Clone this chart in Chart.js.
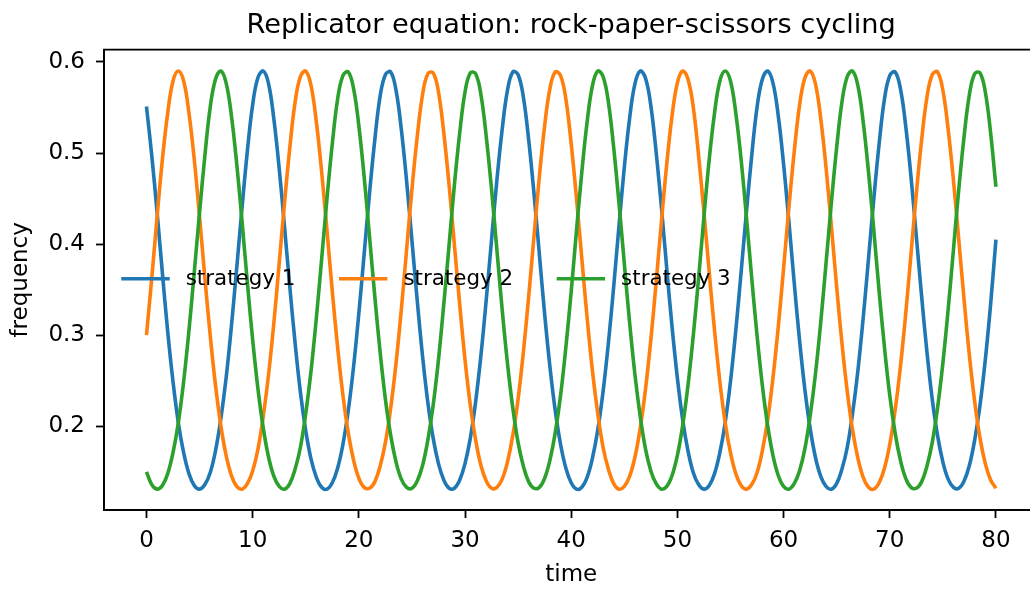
<!DOCTYPE html>
<html>
<head>
<meta charset="utf-8">
<script src="https://cdn.jsdelivr.net/npm/chart.js@4.4.1/dist/chart.umd.min.js"></script>
<style>
  html, body { margin: 0; padding: 0; background: #fff; overflow: hidden; }
  #wrap { width: 1045px; height: 590px; }
</style>
</head>
<body>
<div id="wrap"><canvas id="c" width="1045" height="590"></canvas></div>
<script>
const chartTitle = 'Replicator equation: rock-paper-scissors cycling';
const xTitle = 'time';
const yTitle = 'frequency';
const seriesNames = ['strategy 1', 'strategy 2', 'strategy 3'];
const xTicks = [0, 10, 20, 30, 40, 50, 60, 70, 80];
const yTicks = [0.2, 0.3, 0.4, 0.5, 0.6];

const times = [
  0,0.5,1,1.5,2,2.5,3,3.5,4,4.5,5,5.5,6,6.5,7,7.5,8,8.5,9,9.5,
  10,10.5,11,11.5,12,12.5,13,13.5,14,14.5,15,15.5,16,16.5,17,17.5,18,18.5,19,19.5,
  20,20.5,21,21.5,22,22.5,23,23.5,24,24.5,25,25.5,26,26.5,27,27.5,28,28.5,29,29.5,
  30,30.5,31,31.5,32,32.5,33,33.5,34,34.5,35,35.5,36,36.5,37,37.5,38,38.5,39,39.5,
  40,40.5,41,41.5,42,42.5,43,43.5,44,44.5,45,45.5,46,46.5,47,47.5,48,48.5,49,49.5,
  50,50.5,51,51.5,52,52.5,53,53.5,54,54.5,55,55.5,56,56.5,57,57.5,58,58.5,59,59.5,
  60,60.5,61,61.5,62,62.5,63,63.5,64,64.5,65,65.5,66,66.5,67,67.5,68,68.5,69,69.5,
  70,70.5,71,71.5,72,72.5,73,73.5,74,74.5,75,75.5,76,76.5,77,77.5,78,78.5,79,79.5,
  80
];

const strategy1 = [
  0.551,0.497,0.435,0.368,0.304,0.249,0.204,0.171,0.148,0.135,0.131,0.136,0.149,0.173,0.208,0.253,0.310,0.374,0.440,0.502,0.553,0.583,
  0.590,0.576,0.537,0.483,0.419,0.353,0.291,0.237,0.195,0.164,0.144,0.133,0.131,0.138,0.154,0.180,0.217,0.265,0.324,0.389,0.455,0.514,0.562,0.586,
  0.589,0.569,0.526,0.469,0.404,0.338,0.277,0.226,0.187,0.159,0.141,0.132,0.132,0.141,0.159,0.187,0.227,0.278,0.339,0.405,0.470,0.526,0.569,0.589,
  0.586,0.561,0.514,0.455,0.389,0.323,0.265,0.217,0.180,0.154,0.138,0.131,0.133,0.144,0.165,0.196,0.238,0.291,0.353,0.420,0.484,0.538,0.576,0.590,
  0.582,0.552,0.501,0.440,0.373,0.309,0.253,0.207,0.173,0.149,0.136,0.131,0.135,0.148,0.171,0.204,0.249,0.305,0.369,0.435,0.497,0.550,0.581,
  0.590,0.577,0.541,0.488,0.425,0.358,0.295,0.241,0.198,0.166,0.145,0.134,0.131,0.137,0.153,0.177,0.214,0.261,0.319,0.384,0.450,0.510,0.559,0.585,
  0.589,0.571,0.530,0.474,0.409,0.343,0.282,0.230,0.190,0.161,0.142,0.133,0.132,0.140,0.157,0.185,0.223,0.273,0.334,0.405
];

const strategy2 = [
  0.300,0.363,0.430,0.493,0.544,0.579,
  0.590,0.579,0.544,0.493,0.430,0.363,0.300,0.245,0.201,0.168,0.146,0.134,0.131,0.137,0.151,0.175,0.211,0.257,0.314,0.379,0.445,0.506,0.556,0.584,
  0.590,0.574,0.534,0.479,0.415,0.348,0.287,0.234,0.193,0.163,0.143,0.133,0.132,0.139,0.156,0.182,0.220,0.269,0.328,0.394,0.460,0.518,0.564,0.587,
  0.588,0.567,0.522,0.465,0.399,0.334,0.273,0.223,0.185,0.157,0.140,0.132,0.133,0.142,0.161,0.190,0.230,0.282,0.343,0.409,0.474,0.530,0.571,0.589,
  0.585,0.559,0.510,0.450,0.384,0.319,0.261,0.214,0.177,0.153,0.137,0.131,0.134,0.145,0.166,0.198,0.241,0.295,0.358,0.425,0.488,0.541,0.577,0.590,
  0.581,0.550,0.497,0.435,0.369,0.305,0.249,0.204,0.171,0.148,0.135,0.131,0.136,0.149,0.173,0.207,0.253,0.309,0.373,0.440,0.501,0.552,0.582,
  0.590,0.576,0.538,0.484,0.420,0.353,0.291,0.238,0.196,0.165,0.144,0.133,0.131,0.138,0.154,0.180,0.217,0.265,0.323,0.389,0.455,0.514,0.561,0.586,
  0.589,0.569,0.526,0.470,0.405,0.339,0.278,0.227,0.187,0.159,0.141,0.132
];

const strategy3 = [
  0.150,0.136,0.131,0.135,0.148,0.171,0.204,0.249,0.305,0.369,0.435,0.497,0.550,0.581,
  0.590,0.577,0.541,0.488,0.425,0.358,0.295,0.241,0.198,0.166,0.145,0.134,0.131,0.137,0.153,0.177,0.214,0.261,0.319,0.384,0.450,0.510,0.559,0.585,
  0.589,0.571,0.530,0.474,0.409,0.343,0.282,0.230,0.190,0.161,0.142,0.133,0.132,0.140,0.157,0.185,0.223,0.273,0.334,0.399,0.465,0.522,0.567,0.588,
  0.587,0.564,0.518,0.460,0.394,0.328,0.269,0.220,0.182,0.156,0.139,0.132,0.133,0.143,0.163,0.193,0.234,0.287,0.348,0.415,0.479,0.534,0.574,0.590,
  0.584,0.556,0.506,0.445,0.379,0.314,0.257,0.211,0.175,0.151,0.137,0.131,0.134,0.146,0.168,0.201,0.245,0.300,0.363,0.430,0.493,0.544,0.579,
  0.590,0.579,0.544,0.493,0.430,0.363,0.300,0.245,0.201,0.168,0.146,0.134,0.131,0.137,0.151,0.175,0.211,0.257,0.314,0.379,0.445,0.506,0.556,0.584,
  0.590,0.574,0.534,0.479,0.415,0.348,0.287,0.234,0.193,0.163,0.143,0.133,0.132,0.139,0.156,0.182,0.220,0.269,0.328,0.394,0.460,0.518,0.564,0.587,
  0.588,0.567,0.522,0.463
];

const colors = ['#1f77b4', '#ff7f0e', '#2ca02c'];
const FONT = '"DejaVu Sans", "Liberation Sans", sans-serif';
const LINE_W = 3.6;

function toPoints(vals) {
  return vals.map((v, i) => ({ x: times[i], y: v }));
}

const legendPlugin = {
  id: 'mplLegend',
  afterDatasetsDraw(chart) {
    const { ctx, chartArea } = chart;
    const y = (chartArea.top + chartArea.bottom) / 2 - 1;
    ctx.save();
    ctx.font = '21.4px ' + FONT;
    ctx.textBaseline = 'middle';
    ctx.textAlign = 'left';
    chart.data.datasets.forEach((ds, i) => {
      const x0 = chartArea.left + 17.3 + i * 217.7;
      ctx.strokeStyle = ds.borderColor;
      ctx.lineWidth = LINE_W;
      ctx.lineCap = 'butt';
      ctx.beginPath();
      ctx.moveTo(x0, y);
      ctx.lineTo(x0 + 48.4, y);
      ctx.stroke();
      ctx.fillStyle = '#000';
      ctx.fillText(ds.label, x0 + 64.4, y + 1);
    });
    ctx.restore();
  }
};

const framePlugin = {
  id: 'frame',
  afterDraw(chart) {
    const { ctx, chartArea } = chart;
    ctx.save();
    ctx.strokeStyle = '#000';
    ctx.lineWidth = 1.8;
    ctx.strokeRect(chartArea.left, chartArea.top, chartArea.right - chartArea.left, chartArea.bottom - chartArea.top);
    ctx.restore();
  }
};

Chart.defaults.color = '#000';
Chart.defaults.font.family = FONT;

new Chart(document.getElementById('c'), {
  type: 'line',
  data: {
    datasets: [strategy1, strategy2, strategy3].map((vals, i) => ({
      label: seriesNames[i],
      data: toPoints(vals),
      borderColor: colors[i],
      backgroundColor: colors[i],
      borderWidth: LINE_W,
      pointRadius: 0,
      fill: false,
      tension: 0.4,
      cubicInterpolationMode: 'default',
      order: 3 - i
    }))
  },
  options: {
    responsive: false,
    animation: false,
    devicePixelRatio: 1,
    layout: { padding: { left: 0, right: 6.6, top: 0, bottom: 0 } },
    plugins: {
      legend: { display: false },
      tooltip: { enabled: false },
      title: {
        display: true,
        text: chartTitle,
        fullSize: false,
        color: '#000',
        font: { family: FONT, size: 27.2, weight: 'normal' },
        padding: { top: 10, bottom: 7 }
      }
    },
    scales: {
      x: {
        type: 'linear',
        min: -4,
        max: 84,
        afterBuildTicks: (s) => { s.ticks = xTicks.map(v => ({ value: v })); },
        afterFit: (s) => { s.height = 80; },
        ticks: {
          font: { family: FONT, size: 23 },
          color: '#000',
          padding: 9,
          maxRotation: 0,
          autoSkip: false,
          callback: (v) => String(v)
        },
        grid: { display: true, drawOnChartArea: false, drawTicks: true, tickLength: 8, tickWidth: 1.8, tickColor: '#000' },
        border: { display: true, color: '#000', width: 1.8 },
        title: {
          display: true,
          text: xTitle,
          color: '#000',
          font: { family: FONT, size: 23 },
          padding: { top: 0, bottom: 1 }
        }
      },
      y: {
        type: 'linear',
        min: 0.1081,
        max: 0.6135,
        afterBuildTicks: (s) => { s.ticks = yTicks.map(v => ({ value: v })); },
        afterFit: (s) => { s.width = 104; },
        ticks: {
          font: { family: FONT, size: 23 },
          color: '#000',
          padding: 11,
          autoSkip: false,
          callback: (v) => Number(v).toFixed(1)
        },
        grid: { display: true, drawOnChartArea: false, drawTicks: true, tickLength: 8, tickWidth: 1.8, tickColor: '#000' },
        border: { display: true, color: '#000', width: 1.8 },
        title: {
          display: true,
          text: yTitle,
          color: '#000',
          font: { family: FONT, size: 23 },
          padding: { top: 7, bottom: 0 }
        }
      }
    }
  },
  plugins: [legendPlugin, framePlugin]
});
</script>
</body>
</html>
